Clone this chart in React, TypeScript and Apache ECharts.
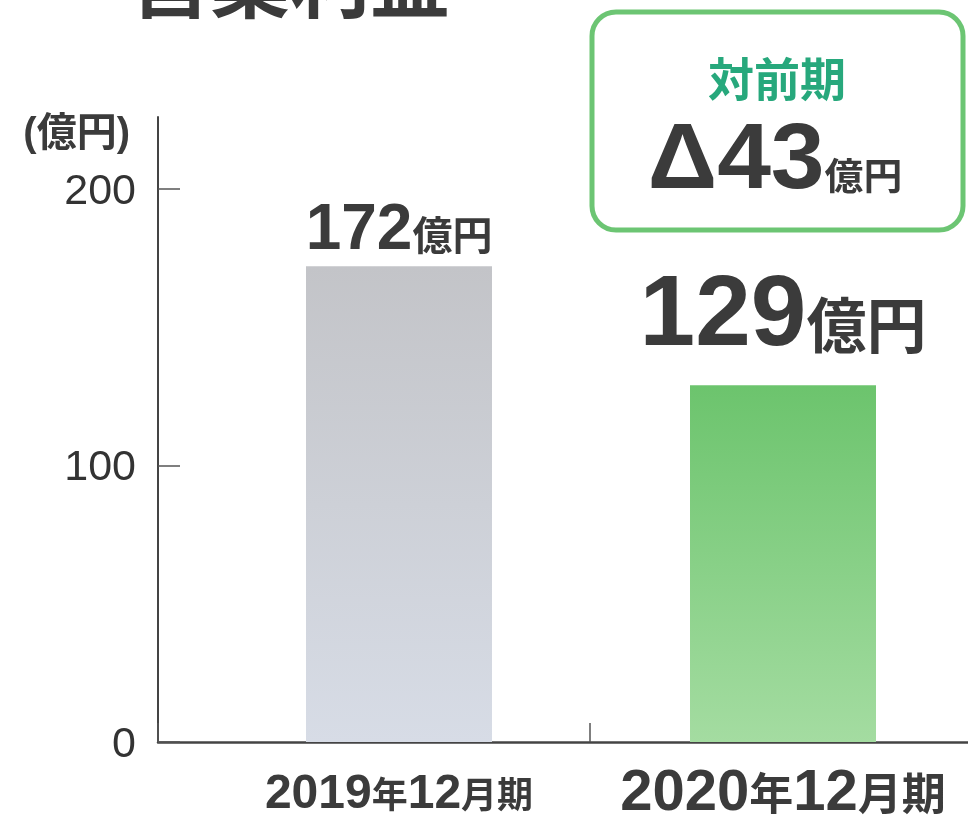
import React, { useEffect, useRef } from 'react';
import * as echarts from 'echarts';

const title = '営業利益';
const unitLabel = '(億円)';
const categories = ['2019年12月期', '2020年12月期'];
const profits = [172, 129];
const yTicks = [0, 100, 200];
const compareLabel = '対前期';
const unit = '億円';

const FONT = "'Liberation Sans', 'Noto Sans CJK JP', sans-serif";
const TEXT = '#3b3b3b';

export default function App() {
  const ref = useRef<HTMLDivElement>(null);
  useEffect(() => {
    const chart = echarts.init(ref.current!, null, { renderer: 'svg' });
    const yMax = 226;
    const grad = (top: string, bottom: string) =>
      new echarts.graphic.LinearGradient(0, 0, 0, 1, [
        { offset: 0, color: top },
        { offset: 1, color: bottom },
      ]);
    const barColors = [grad('#c3c4c8', '#d7dce6'), grad('#6cc46d', '#a4dca1')];
    const valueLabel = [
      { num: 64, unit: 40, distance: 7 },
      { num: 100, unit: 60, distance: 25 },
    ];
    const catLabel = [
      { num: 48, unit: 36, lh: 40 },
      { num: 58, unit: 44, lh: 46 },
    ];
    const rich: any = {};
    catLabel.forEach((s, i) => {
      rich['n' + i] = { fontSize: s.num, fontWeight: 'bold', fontFamily: FONT, color: TEXT, lineHeight: s.lh, verticalAlign: 'bottom' };
      rich['u' + i] = { fontSize: s.unit, fontWeight: 'bold', fontFamily: FONT, color: TEXT, lineHeight: s.lh, verticalAlign: 'bottom', padding: [0, 0, 2, 0] };
    });
    const delta = profits[0] - profits[1];

    chart.setOption({
      animation: false,
      grid: [
        { left: 207, right: -7, top: 117, bottom: 78, outerBoundsMode: 'none', containLabel: false },
        { left: 158, right: -54, top: 117, bottom: 78, outerBoundsMode: 'none', containLabel: false },
      ],
      xAxis: [
        {
          type: 'category',
          gridIndex: 0,
          data: categories,
          axisLine: { show: false },
          axisTick: { show: false },
          axisLabel: {
            margin: 53,
            verticalAlign: 'middle',
            formatter: (val: string, idx: number) =>
              val.replace(/(\d+)|(\D+)/g, (m: string, d: string) => (d ? `{n${idx}|${m}}` : `{u${idx}|${m}}`)),
            rich,
          },
        },
        {
          type: 'category',
          gridIndex: 1,
          data: categories,
          axisLine: { lineStyle: { color: '#444', width: 2.5 } },
          axisTick: { show: true, interval: 0, inside: true, length: 19, lineStyle: { color: '#555', width: 1.5 } },
          axisLabel: { show: false },
        },
      ],
      yAxis: [
        { type: 'value', gridIndex: 0, min: 0, max: yMax, show: false },
        {
          type: 'value',
          gridIndex: 1,
          min: 0,
          max: yMax,
          interval: 100,
          name: unitLabel,
          nameLocation: 'end',
          nameGap: -15,
          nameTextStyle: {
            align: 'right',
            verticalAlign: 'middle',
            padding: [0, 28, 0, 0],
            fontSize: 40,
            fontWeight: 'bold',
            fontFamily: FONT,
            color: TEXT,
          },
          axisLine: { show: true, lineStyle: { color: '#444', width: 2 } },
          axisTick: { show: true, inside: true, length: 22, customValues: yTicks, lineStyle: { color: '#555', width: 1.5 } },
          axisLabel: {
            customValues: yTicks,
            formatter: (v: number) => (yTicks.includes(v) ? String(v) : ''),
            fontSize: 43,
            fontFamily: FONT,
            color: '#333',
            margin: 22,
          },
          splitLine: { show: false },
        },
      ],
      series: [
        {
          type: 'bar',
          xAxisIndex: 0,
          yAxisIndex: 0,
          barWidth: 186,
          label: {
            show: true,
            position: 'top',
            formatter: (p: any) => `{n|${p.value}}{u|${unit}}`,
          },
          data: profits.map((v, i) => ({
            value: v,
            itemStyle: { color: barColors[i] },
            label: {
              distance: valueLabel[i].distance,
              rich: {
                n: { fontSize: valueLabel[i].num, fontWeight: 'bold', fontFamily: FONT, color: TEXT, lineHeight: valueLabel[i].num, verticalAlign: 'bottom' },
                u: { fontSize: valueLabel[i].unit, fontWeight: 'bold', fontFamily: FONT, color: TEXT, lineHeight: valueLabel[i].num, verticalAlign: 'bottom', padding: [0, 0, 3, 0] },
              },
            },
          })),
        },
      ],
      graphic: [
        {
          type: 'text',
          x: 290,
          y: -17,
          style: {
            text: title,
            fontSize: 80,
            fontWeight: 'bold',
            fontFamily: FONT,
            fill: TEXT,
            align: 'center',
            verticalAlign: 'middle',
            textAlign: 'center',
            textVerticalAlign: 'middle',
          },
        },
        {
          type: 'rect',
          shape: { x: 592, y: 12, width: 371, height: 218, r: 24 },
          style: { fill: '#fff', stroke: '#6cc573', lineWidth: 5 },
        },
        {
          type: 'text',
          x: 777,
          y: 80,
          style: {
            text: compareLabel,
            fontSize: 46,
            fontWeight: 'bold',
            fontFamily: FONT,
            fill: '#27a87c',
            align: 'center',
            verticalAlign: 'middle',
            textAlign: 'center',
            textVerticalAlign: 'middle',
          },
        },
        {
          type: 'text',
          x: 775,
          y: 156,
          scaleX: 1.05,
          style: {
            text: `{d|Δ${delta}}{u|${unit}}`,
            align: 'center',
            verticalAlign: 'middle',
            textAlign: 'center',
            textVerticalAlign: 'middle',
            rich: {
              d: { fontSize: 92, fontWeight: 'bold', fontFamily: FONT, fill: TEXT, color: TEXT, lineHeight: 92, verticalAlign: 'bottom' },
              u: { fontSize: 37, fontWeight: 'bold', fontFamily: FONT, fill: TEXT, color: TEXT, lineHeight: 92, verticalAlign: 'bottom', padding: [0, 0, 6, 0] },
            },
          },
        },
      ],
    });
    return () => chart.dispose();
  }, []);
  return <div ref={ref} style={{ position: 'fixed', left: 0, top: 0, width: 968, height: 820 }} />;
}
